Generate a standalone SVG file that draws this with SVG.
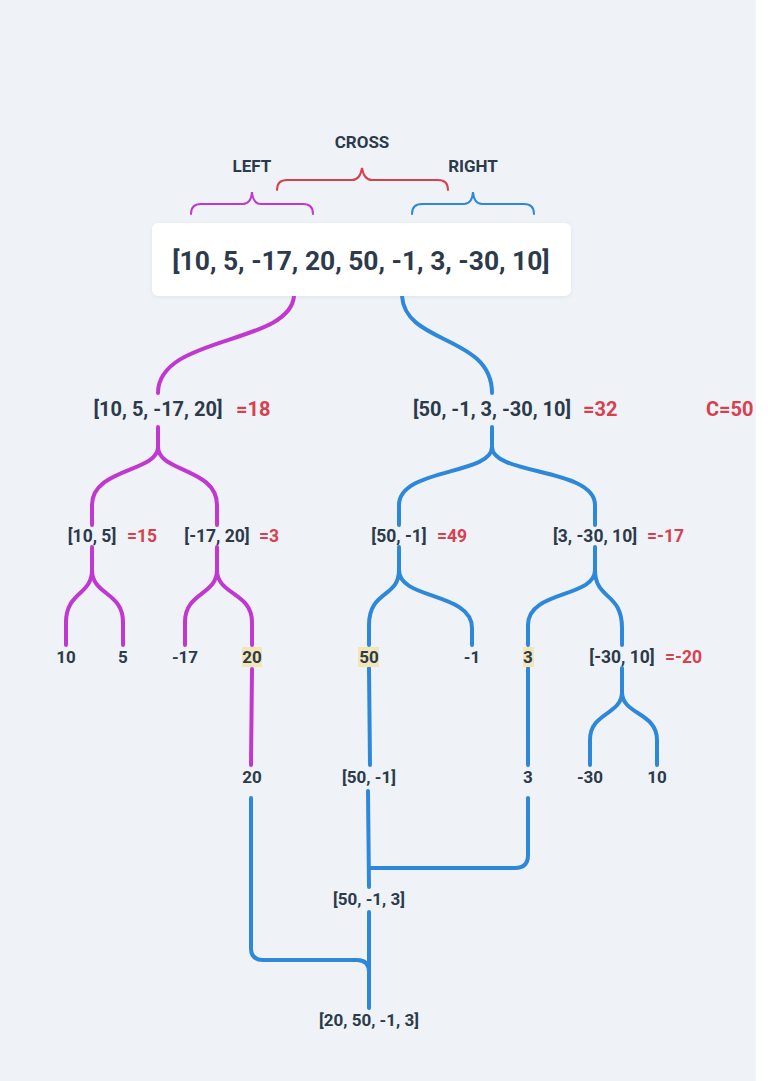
<svg xmlns="http://www.w3.org/2000/svg" width="780" height="1081" viewBox="0 0 780 1081">
<defs>
<style>
.t{font-family:Roboto,"Liberation Sans",sans-serif;font-weight:700;fill:#2c3a4b}
.c{text-anchor:middle}
.v{font-family:Roboto,"Liberation Sans",sans-serif;font-weight:700;fill:#d9404f}
.l1{font-size:20px}
.l2{font-size:17.5px}
.lf{font-size:17px}
.hd{font-size:17px}
.p{fill:none;stroke:#c038d0;stroke-width:4;stroke-linecap:round}
.b{fill:none;stroke:#2e88da;stroke-width:4;stroke-linecap:round}
.br{fill:none;stroke-width:2;stroke-linecap:round}
.hl{fill:#f4e5b6}
</style>
<filter id="sh" x="-10%" y="-30%" width="120%" height="160%">
<feDropShadow dx="0" dy="1" stdDeviation="2" flood-color="#8899aa" flood-opacity="0.18"/>
</filter>
</defs>
<rect x="0" y="0" width="780" height="1081" fill="#ffffff"/>
<rect x="0" y="0" width="756" height="1081" fill="#eff3f7"/>

<g id="braces">
<path class="br" stroke="#c038d0" d="M191,214 Q191,204 201,204 H243 Q251,204 252,192 Q253,204 261,204 H303 Q313,204 313,214"/>
<path class="br" stroke="#d9404f" d="M277,190 Q277,180 287,180 H352 Q360,180 362,168 Q364,180 372,180 H438 Q448,180 448,190"/>
<path class="br" stroke="#2e88da" d="M412,214 Q412,204 422,204 H464 Q472,204 473,192 Q474,204 482,204 H524 Q534,204 534,214"/>
<text class="t c hd" x="252" y="172">LEFT</text>
<text class="t c hd" x="362" y="148">CROSS</text>
<text class="t c hd" x="473" y="172">RIGHT</text>
</g>

<g id="connectors">
<path class="p" d="M294,296 C290,345 158,335 158,393"/>
<path class="b" d="M402,296 C405,345 492,335 492,393"/>
<path class="p" d="M158,427 V447 C158,472 92,468 92,505 V525 M158,447 C158,472 217,468 217,505 V525"/>
<path class="b" d="M492,427 V447 C492,475 399,468 399,505 V525 M492,447 C492,475 595,468 595,505 V525"/>
<path class="p" d="M92,547 V570 C92,595 66,592 66,622 V645 M92,570 C92,595 123,592 123,622 V645"/>
<path class="p" d="M217,547 V570 C217,595 185,592 185,622 V645 M217,570 C217,595 252,592 252,622 V645"/>
<path class="b" d="M399,547 V570 C399,598 369,590 369,625 V645 M399,570 C399,600 472,592 472,628 V645"/>
<path class="b" d="M595,547 V570 C595,598 528,590 528,625 V645 M595,570 C595,600 622,592 622,628 V645"/>
<path class="b" d="M622,668 V692 C622,715 590,712 590,740 V765 M622,692 C622,715 657,712 657,740 V765"/>
<path class="p" d="M252,669 L251,765"/>
<path class="b" d="M369,668 L370,765"/>
<path class="b" d="M528,668 V765"/>
<path class="b" d="M368,791 L369,887"/>
<path class="b" d="M528,798 V855 Q528,868 515,868 H370"/>
<path class="b" d="M369,912 V1008"/>
<path class="b" d="M251,798 V948 Q251,960 263,960 H357 Q369,960 369,972"/>
</g>

<g id="root">
<rect x="152" y="223" width="419" height="73" rx="6" fill="#ffffff" filter="url(#sh)"/>
<text class="t c" x="361" y="270" font-size="26.4">[10, 5, -17, 20, 50, -1, 3, -30, 10]</text>
</g>

<g id="n-left"><text class="t c l1" x="158" y="416">[10, 5, -17, 20]</text><text class="v l1" x="236" y="416">=18</text></g>
<g id="n-right"><text class="t c l1" x="492" y="416">[50, -1, 3, -30, 10]</text><text class="v l1" x="583" y="416">=32</text></g>
<g id="n-cross"><text class="v l1" x="706" y="416">C=50</text></g>

<g id="n-10-5"><text class="t c l2" x="92" y="542">[10, 5]</text><text class="v l2" x="127" y="542">=15</text></g>
<g id="n-m17-20"><text class="t c l2" x="217" y="542">[-17, 20]</text><text class="v l2" x="259" y="542">=3</text></g>
<g id="n-50-m1"><text class="t c l2" x="399" y="542">[50, -1]</text><text class="v l2" x="437" y="542">=49</text></g>
<g id="n-3-m30-10"><text class="t c l2" x="595" y="542">[3, -30, 10]</text><text class="v l2" x="647" y="542">=-17</text></g>

<g id="leaf-10"><text class="t c lf" x="66" y="663">10</text></g>
<g id="leaf-5"><text class="t c lf" x="123" y="663">5</text></g>
<g id="leaf-m17"><text class="t c lf" x="185" y="663">-17</text></g>
<g id="leaf-20"><rect class="hl" x="242" y="647" width="20" height="20"/><text class="t c lf" x="252" y="663">20</text></g>
<g id="leaf-50"><rect class="hl" x="358" y="647" width="21" height="20"/><text class="t c lf" x="369" y="663">50</text></g>
<g id="leaf-m1"><text class="t c lf" x="472" y="663">-1</text></g>
<g id="leaf-3"><rect class="hl" x="523" y="647" width="11" height="20"/><text class="t c lf" x="528" y="663">3</text></g>
<g id="n-m30-10"><text class="t c l2" x="622" y="663">[-30, 10]</text><text class="v l2" x="665" y="663">=-20</text></g>

<g id="m-20"><text class="t c lf" x="252" y="783">20</text></g>
<g id="m-50-m1"><text class="t c lf" x="369" y="783">[50, -1]</text></g>
<g id="m-3"><text class="t c lf" x="528" y="783">3</text></g>
<g id="leaf-m30"><text class="t c lf" x="590" y="783">-30</text></g>
<g id="leaf-10b"><text class="t c lf" x="657" y="783">10</text></g>
<g id="m-50-m1-3"><text class="t c lf" x="369" y="905">[50, -1, 3]</text></g>
<g id="m-final"><text class="t c lf" x="369" y="1026">[20, 50, -1, 3]</text></g>
</svg>
